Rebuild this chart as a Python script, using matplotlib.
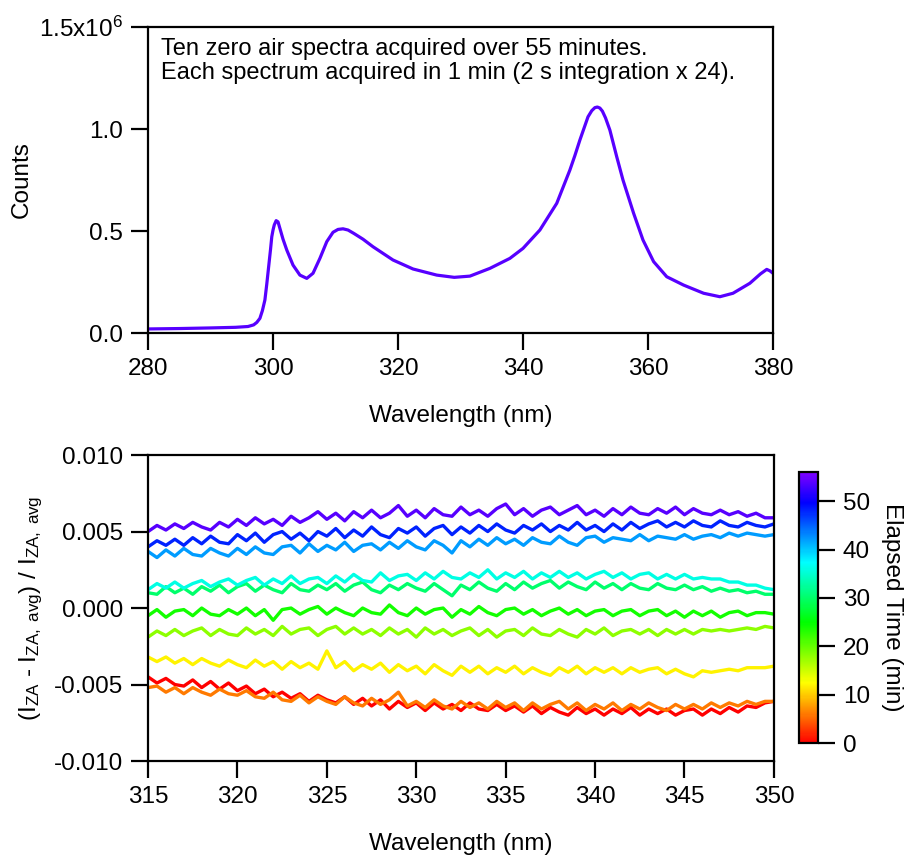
import numpy as np
import matplotlib

matplotlib.use("Agg")
import matplotlib.pyplot as plt
from matplotlib.colors import LinearSegmentedColormap, Normalize
from matplotlib.cm import ScalarMappable
from matplotlib.ticker import FormatStrFormatter

plt.rcParams["font.family"] = ["Liberation Sans", "DejaVu Sans"]
plt.rcParams["mathtext.fontset"] = "custom"
plt.rcParams["mathtext.rm"] = "Liberation Sans"
plt.rcParams["mathtext.it"] = "Liberation Sans"
plt.rcParams["axes.unicode_minus"] = False

# --- top panel: zero-air spectrum (counts in units of 1e6) ---
spec_wl = [280, 285, 290, 294, 296, 296.9, 297.4, 297.9, 298.3, 298.7,
           299.0, 299.3, 299.6, 299.8, 300.0, 300.2, 300.5, 300.8, 301.1, 301.6,
           302.2, 303.2, 304.3, 305.4, 306.4, 307.5, 308.6, 309.6, 310.4, 311.2,
           312, 312.9, 314.4, 316, 319.2, 322.4, 326.2, 329, 331.5, 334.7,
           337.9, 340, 342.7, 345.4, 347.5, 348.3, 349.1, 350.4, 351.0, 351.5,
           351.9, 352.3, 352.7, 353.2, 353.9, 355, 356, 357.7, 359.2, 360.9,
           363, 365.7, 368.9, 371.5, 373.6, 376.3, 378, 379, 379.5, 380]
spec_counts = [0.02, 0.022, 0.025, 0.028, 0.032, 0.04, 0.052, 0.072, 0.11, 0.162,
               0.24, 0.325, 0.41, 0.472, 0.505, 0.53, 0.551, 0.545, 0.513, 0.46,
               0.407, 0.333, 0.284, 0.268, 0.293, 0.366, 0.448, 0.494, 0.508, 0.511,
               0.505, 0.489, 0.46, 0.423, 0.358, 0.314, 0.284, 0.273, 0.279, 0.317,
               0.366, 0.415, 0.505, 0.636, 0.799, 0.87, 0.946, 1.06, 1.09, 1.105,
               1.108, 1.103, 1.088, 1.055, 0.995, 0.864, 0.75, 0.587, 0.456, 0.35,
               0.276, 0.235, 0.195, 0.178, 0.195, 0.244, 0.29, 0.312, 0.305, 0.293]
count_ticks = [0.0, 0.5, 1.0, 1.5]
count_tick_labels = ["0.0", "0.5", "1.0", "1.5x10$^{6}$"]

# --- bottom panel: relative deviation, 315-350 nm every 0.5 nm (units of 1e-3) ---
elapsed_min = [0, 6, 12, 18, 24, 30, 36, 42, 48, 54]
dev_0 = [-4.5, -4.9, -4.6, -5.0, -5.1, -4.7, -5.2, -4.8, -5.3, -4.9, -5.4, -5.1, -5.6, -5.3, -5.8,
         -5.5, -5.9, -5.6, -6.1, -5.7, -6.0, -6.2, -5.8, -6.3, -5.9, -6.4, -6.0, -6.6, -6.1, -6.5,
         -6.2, -6.7, -6.2, -6.6, -6.3, -6.7, -6.2, -6.6, -6.7, -6.3, -6.7, -6.4, -6.8, -6.4, -6.9,
         -6.5, -6.8, -7.0, -6.5, -6.9, -6.6, -7.0, -6.6, -6.9, -6.5, -7.0, -6.6, -6.9, -6.6, -7.0,
         -6.7, -6.6, -7.0, -6.6, -6.9, -6.5, -6.8, -6.4, -6.5, -6.2, -6.1]
dev_6 = [-5.2, -5.1, -5.5, -5.2, -5.6, -5.2, -5.5, -5.7, -5.3, -5.6, -5.7, -5.4, -5.8, -5.9, -5.5,
         -6.0, -6.1, -5.7, -6.2, -5.8, -6.1, -6.3, -5.8, -6.2, -6.4, -5.9, -6.3, -6.0, -5.5, -6.4,
         -6.1, -6.5, -6.0, -6.4, -6.6, -6.1, -6.5, -6.2, -6.6, -6.1, -6.5, -6.2, -6.7, -6.2, -6.6,
         -6.3, -6.1, -6.6, -6.2, -6.7, -6.3, -6.6, -6.2, -6.7, -6.3, -6.6, -6.2, -6.5, -6.7, -6.3,
         -6.6, -6.3, -6.6, -6.2, -6.5, -6.2, -6.4, -6.1, -6.3, -6.1, -6.1]
dev_12 = [-3.2, -3.5, -3.2, -3.6, -3.3, -3.7, -3.3, -3.6, -3.8, -3.4, -3.7, -3.9, -3.4, -3.8, -3.5,
          -4.0, -3.5, -3.9, -3.6, -4.0, -2.8, -3.9, -3.5, -4.1, -3.7, -4.0, -3.6, -4.2, -3.7, -4.1,
          -3.8, -4.3, -3.7, -4.1, -4.4, -3.8, -4.2, -3.8, -4.3, -3.9, -4.2, -3.8, -4.3, -3.9, -4.2,
          -4.4, -3.9, -4.2, -3.8, -4.3, -3.9, -4.2, -3.9, -4.3, -3.9, -4.2, -4.0, -3.9, -4.3, -4.0,
          -4.3, -4.5, -4.1, -4.2, -4.1, -4.0, -4.1, -3.9, -3.9, -3.9, -3.8]
dev_18 = [-1.9, -1.5, -1.8, -1.4, -1.8, -1.5, -1.3, -1.8, -1.4, -1.7, -1.8, -1.3, -1.7, -1.4, -1.8,
          -1.2, -1.7, -1.4, -1.3, -1.8, -1.4, -1.2, -1.7, -1.3, -1.7, -1.4, -1.8, -1.3, -1.7, -1.4,
          -1.9, -1.3, -1.7, -1.4, -1.8, -1.5, -1.3, -1.8, -1.4, -1.9, -1.5, -1.4, -1.8, -1.3, -1.7,
          -1.8, -1.4, -1.7, -1.9, -1.4, -1.7, -1.3, -1.8, -1.5, -1.4, -1.7, -1.4, -1.8, -1.4, -1.7,
          -1.4, -1.7, -1.4, -1.5, -1.4, -1.5, -1.4, -1.3, -1.4, -1.2, -1.3]
dev_24 = [-0.5, -0.1, -0.6, -0.2, -0.1, -0.5, 0.0, -0.4, -0.5, -0.1, -0.4, 0.0, -0.5, -0.1, -0.8,
          -0.1, 0.0, -0.4, -0.1, 0.1, -0.4, 0.0, -0.3, -0.5, 0.0, -0.3, -0.4, 0.2, -0.3, -0.5,
          0.0, -0.4, -0.1, 0.0, -0.6, -0.1, -0.4, 0.1, -0.3, -0.5, -0.1, 0.0, -0.4, -0.1, -0.5,
          -0.2, 0.0, -0.4, -0.1, -0.5, -0.2, -0.1, -0.5, -0.2, -0.1, -0.5, -0.2, -0.1, -0.5, -0.2,
          -0.6, -0.2, -0.5, -0.2, -0.6, -0.3, -0.2, -0.5, -0.3, -0.3, -0.4]
dev_30 = [1.0, 0.9, 1.4, 1.0, 1.3, 0.9, 1.4, 1.1, 1.5, 1.0, 1.4, 1.6, 1.1, 1.5, 1.2,
          1.0, 1.6, 1.2, 1.1, 1.5, 1.2, 1.6, 1.1, 1.5, 1.7, 1.2, 1.0, 1.5, 1.2, 1.6,
          1.3, 1.1, 1.6, 1.2, 0.8, 1.5, 1.2, 1.7, 1.3, 1.1, 1.6, 1.2, 1.7, 1.3, 1.6,
          1.8, 1.3, 1.7, 1.4, 1.2, 1.7, 1.3, 1.6, 1.2, 1.6, 1.3, 1.2, 1.6, 1.3, 1.2,
          1.5, 1.2, 1.4, 1.1, 1.3, 1.1, 1.2, 1.0, 1.1, 0.9, 0.9]
dev_36 = [1.2, 1.6, 1.3, 1.7, 1.3, 1.6, 1.8, 1.4, 1.7, 1.9, 1.5, 1.8, 2.0, 1.5, 1.9,
          1.6, 2.1, 1.6, 1.9, 2.0, 1.6, 2.1, 1.7, 2.2, 1.8, 1.7, 2.3, 1.8, 2.1, 2.2,
          1.8, 2.3, 1.9, 2.4, 2.0, 1.9, 2.3, 2.0, 2.5, 1.9, 2.3, 2.0, 2.4, 1.9, 2.3,
          2.0, 2.4, 2.0, 2.3, 1.9, 2.2, 2.4, 2.0, 2.3, 1.9, 2.2, 2.3, 1.9, 2.2, 1.9,
          2.2, 1.9, 2.0, 1.9, 1.9, 1.7, 1.7, 1.5, 1.5, 1.3, 1.2]
dev_42 = [3.7, 3.3, 3.8, 3.4, 3.9, 3.5, 3.4, 3.9, 3.6, 3.4, 3.9, 3.5, 4.0, 3.6, 3.5,
          4.0, 4.1, 3.6, 4.2, 3.7, 4.1, 3.8, 4.3, 3.7, 4.1, 4.2, 3.8, 4.3, 3.9, 4.4,
          4.0, 3.8, 4.4, 4.1, 3.6, 4.4, 4.0, 4.5, 4.1, 4.6, 4.2, 4.5, 4.1, 4.6, 4.3,
          4.2, 4.7, 4.3, 4.1, 4.6, 4.7, 4.3, 4.6, 4.5, 4.4, 4.8, 4.4, 4.7, 4.6, 4.5,
          4.8, 4.5, 4.7, 4.8, 4.6, 4.9, 4.7, 4.9, 4.8, 4.7, 4.8]
dev_48 = [4.0, 4.4, 4.1, 4.5, 4.1, 4.6, 4.2, 4.7, 4.3, 4.2, 4.8, 4.4, 4.9, 4.3, 4.8,
          5.0, 4.5, 4.9, 4.4, 5.0, 4.7, 5.2, 4.6, 5.1, 4.7, 5.3, 4.8, 4.6, 5.2, 4.9,
          5.3, 4.7, 5.2, 5.4, 4.8, 5.3, 4.9, 5.4, 5.0, 5.5, 5.1, 4.9, 5.4, 5.1, 5.5,
          5.0, 5.4, 5.1, 5.6, 5.1, 5.4, 5.0, 5.5, 5.1, 5.6, 5.2, 5.5, 5.7, 5.3, 5.6,
          5.3, 5.7, 5.4, 5.3, 5.7, 5.4, 5.3, 5.6, 5.4, 5.3, 5.5]
dev_54 = [5.0, 5.4, 5.1, 5.5, 5.2, 5.6, 5.3, 5.1, 5.6, 5.3, 5.8, 5.4, 5.9, 5.5, 5.8,
          5.4, 6.0, 5.6, 5.9, 6.3, 5.8, 6.2, 5.7, 6.3, 5.9, 6.4, 5.9, 6.2, 6.7, 6.0,
          6.4, 5.9, 6.5, 6.1, 6.0, 6.6, 6.1, 6.4, 6.0, 6.5, 6.8, 6.1, 6.5, 6.0, 6.4,
          6.6, 6.1, 6.4, 6.7, 6.1, 6.4, 6.0, 6.5, 6.1, 6.6, 6.2, 6.1, 6.5, 6.2, 6.6,
          6.1, 6.5, 6.2, 6.1, 6.4, 6.1, 6.3, 6.0, 6.2, 5.9, 5.9]
deviations = [dev_0, dev_6, dev_12, dev_18, dev_24, dev_30, dev_36, dev_42, dev_48, dev_54]

# Igor-style rainbow: hue 0 (red) -> 270 deg (violet)
rainbow = LinearSegmentedColormap.from_list(
    "igor_rainbow",
    [(0.0, (1, 0, 0)), (60 / 270, (1, 1, 0)), (120 / 270, (0, 1, 0)),
     (180 / 270, (0, 1, 1)), (240 / 270, (0, 0, 1)), (1.0, (0.5, 0, 1))])
norm = Normalize(vmin=0, vmax=56)

fig = plt.figure(figsize=(9.11, 8.57), dpi=100)
FS = 17.5


def style_axes(ax):
    for sp in ax.spines.values():
        sp.set_linewidth(1.6)
    ax.tick_params(direction="out", length=12, width=1.6, labelsize=FS, pad=6,
                   top=False, right=False)


# top panel
ax1 = fig.add_axes([0.1625, 0.6114, 0.686, 0.357])
ax1.plot(spec_wl, spec_counts, color=rainbow(norm(54)), lw=2.3,
         solid_joinstyle="round")
ax1.set_xlim(280, 380)
ax1.set_ylim(0, 1.5)
ax1.set_xticks([280, 300, 320, 340, 360, 380])
ax1.set_yticks(count_ticks)
ax1.set_yticklabels(count_tick_labels)
ax1.set_xlabel("Wavelength (nm)", fontsize=FS, labelpad=18)
ax1.set_ylabel("Counts", fontsize=FS, labelpad=5)
style_axes(ax1)
ax1.text(0.021, 0.965, "Ten zero air spectra acquired over 55 minutes.\n"
         "Each spectrum acquired in 1 min (2 s integration x 24).",
         transform=ax1.transAxes, ha="left", va="top", fontsize=17,
         linespacing=1.15)

# bottom panel
ax2 = fig.add_axes([0.1625, 0.112, 0.687, 0.357])
for t, dev in zip(elapsed_min, deviations):
    vals = np.array(dev) * 1e-3
    wl = np.linspace(315, 350, len(vals))
    ax2.plot(wl, vals, color=rainbow(norm(t)), lw=2.4)
ax2.set_xlim(315, 350)
ax2.set_ylim(-0.010, 0.010)
ax2.set_xticks([315, 320, 325, 330, 335, 340, 345, 350])
ax2.set_yticks([-0.010, -0.005, 0.0, 0.005, 0.010])
ax2.yaxis.set_major_formatter(FormatStrFormatter("%.3f"))
ax2.set_xlabel("Wavelength (nm)", fontsize=FS, labelpad=18)
ax2.set_ylabel("(I$_{ZA}$ - I$_{ZA,\\ avg}$) / I$_{ZA,\\ avg}$", fontsize=FS, labelpad=6)
style_axes(ax2)

# colorbar
cax = fig.add_axes([0.877, 0.133, 0.0209, 0.316])
cb = fig.colorbar(ScalarMappable(norm=norm, cmap=rainbow), cax=cax)
cb.set_ticks([0, 10, 20, 30, 40, 50])
cb.outline.set_linewidth(1.6)
cax.tick_params(direction="out", length=12, width=1.6, labelsize=FS, pad=6)
cb.set_label("Elapsed Time (min)", fontsize=FS, rotation=270, labelpad=24)

fig.savefig("out.png", dpi=100)
